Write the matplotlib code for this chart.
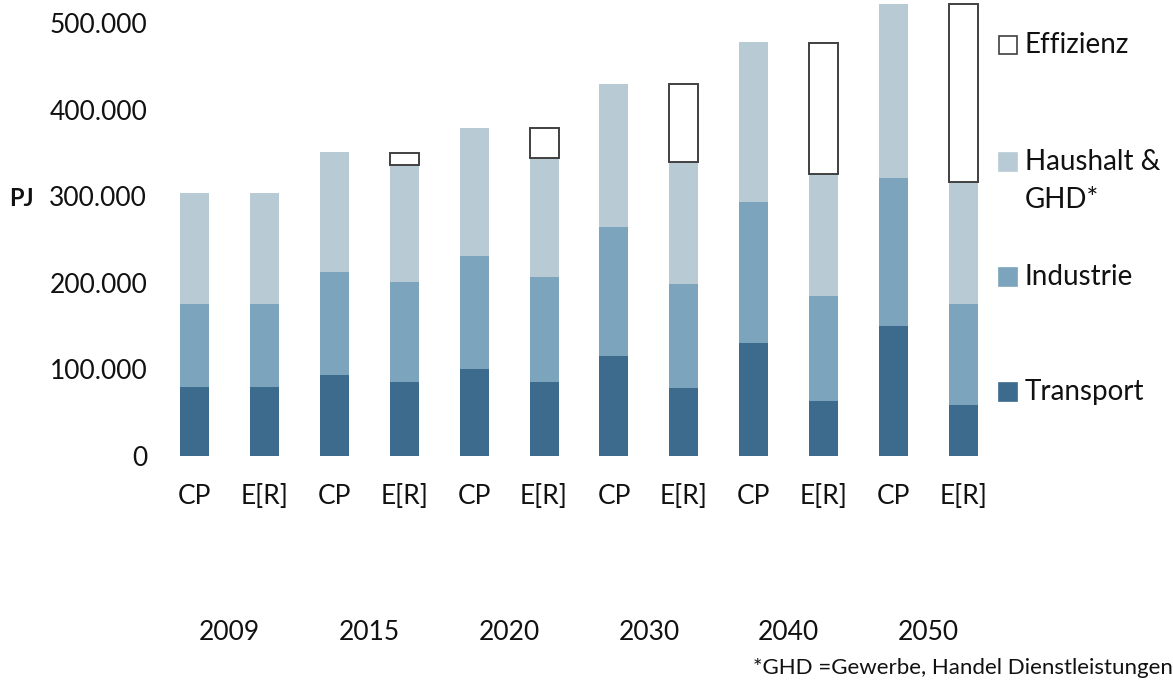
import numpy as np
import matplotlib
matplotlib.use("Agg")
import matplotlib.pyplot as plt
import matplotlib.transforms as mtransforms
from matplotlib.patches import Rectangle
from matplotlib.ticker import FuncFormatter

plt.rcParams['font.family'] = ['Lato', 'DejaVu Sans']

# Endenergiebedarf nach Sektoren in PJ, Referenz (CP) und Energy [R]evolution (E[R])
jahre = ["2009", "2015", "2020", "2030", "2040", "2050"]
szenarien = ["CP", "E[R]"]

transport_cp = [80000, 93000, 100000, 116000, 131000, 150000]
transport_er = [80000, 86000, 86000, 78000, 64000, 59000]
industrie_cp = [96000, 120000, 131000, 148000, 162000, 171000]
industrie_er = [96000, 115000, 121000, 121000, 121000, 117000]
haushalt_cp = [128000, 138000, 148000, 166000, 185000, 201000]
haushalt_er = [128000, 135000, 137000, 140000, 141000, 140000]
effizienz_er = [0, 14000, 35000, 91000, 151000, 206000]

c_transport = "#3c6b8e"
c_industrie = "#7ca4bc"
c_haushalt = "#b8cbd5"


def abwechselnd(cp, er):
    out = []
    for a, b in zip(cp, er):
        out += [a, b]
    return np.array(out, dtype=float)


transport = abwechselnd(transport_cp, transport_er)
industrie = abwechselnd(industrie_cp, industrie_er)
haushalt = abwechselnd(haushalt_cp, haushalt_er)
effizienz = abwechselnd([0] * len(jahre), effizienz_er)

x = np.arange(len(transport))
breite = 0.415

fig = plt.figure(figsize=(11.73, 6.81), dpi=100)
ax = fig.add_axes([0.1361, 0.3304, 0.715, 0.6676])

ax.bar(x, transport, breite, color=c_transport)
ax.bar(x, industrie, breite, bottom=transport, color=c_industrie)
ax.bar(x, haushalt, breite, bottom=transport + industrie, color=c_haushalt)

# Effizienz nur dort zeichnen, wo es einen Wert gibt
m = effizienz > 0
ax.bar(x[m], effizienz[m], breite, bottom=(transport + industrie + haushalt)[m],
       facecolor="white", edgecolor="#404040", linewidth=1.4)

ax.set_xlim(-0.5, len(x) - 0.5)
ax.set_ylim(0, 525000)
ax.set_yticks(np.arange(0, 500001, 100000))
ax.yaxis.set_major_formatter(FuncFormatter(lambda v, p: f"{int(v):,}".replace(",", ".")))
ax.tick_params(axis="y", length=0, pad=9, labelsize=19, labelcolor="#111111")
ax.set_xticks([])
for s in ax.spines.values():
    s.set_visible(False)

# Szenario- und Jahresbeschriftung unter den Balken
trans = mtransforms.blended_transform_factory(ax.transData, fig.transFigure)
for i in x:
    ax.text(i, 0.2702, szenarien[i % 2], transform=trans, ha="center", va="center",
            fontsize=19, color="#111111")
for k, j in enumerate(jahre):
    ax.text(2 * k + 0.5, 0.0705, j, transform=trans, ha="center", va="center",
            fontsize=19, color="#111111")

fig.text(0.0185, 0.7078, "PJ", ha="center", va="center", fontsize=17,
         fontweight="bold", color="#111111")

fig.text(0.642, 0.0191, "*GHD =Gewerbe, Handel Dienstleistungen", ha="left",
         va="center", fontsize=16, color="#111111")

# Legende
eintraege = [
    ("Effizienz", "white", "#404040", 45),
    ("Haushalt &", c_haushalt, c_haushalt, 162),
    ("Industrie", c_industrie, c_industrie, 277),
    ("Transport", c_transport, c_transport, 392),
]
H = 681.0
for name, fc, ec, ypx in eintraege:
    fig.add_artist(Rectangle((0.8517, (H - ypx - 9) / H), 0.01535, 18 / H,
                             transform=fig.transFigure, facecolor=fc,
                             edgecolor=ec, linewidth=1.2))
    fig.text(0.8738, (H - ypx) / H, name, ha="left", va="center", fontsize=20,
             color="#111111")
fig.text(0.8738, (H - 200) / H, "GHD*", ha="left", va="center", fontsize=20,
         color="#111111")

fig.savefig("out.png", dpi=100)
